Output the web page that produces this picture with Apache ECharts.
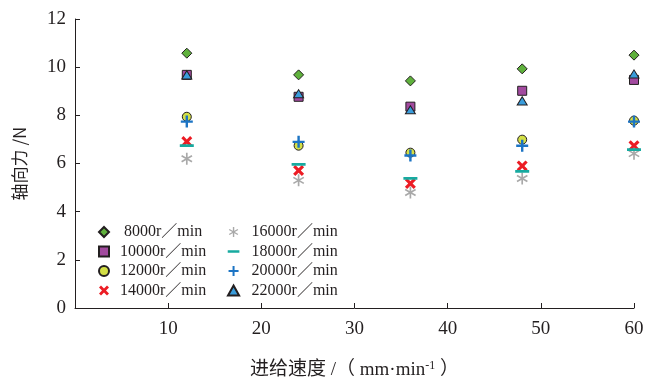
<!DOCTYPE html>
<html>
<head>
<meta charset="utf-8">
<script src="https://cdn.jsdelivr.net/npm/echarts@6/dist/echarts.min.js"></script>
<style>html,body{margin:0;padding:0;background:#fff}#c{width:645px;height:382px}</style>
</head>
<body>
<div id="c"></div>
<script>
var feed = [12, 24, 36, 48, 60];
var names = ['8000r／min','10000r／min','12000r／min','14000r／min','16000r／min','18000r／min','20000r／min','22000r／min'];
var s8000  = [10.58, 9.68, 9.43, 9.93, 10.50];
var s10000 = [9.68, 8.77, 8.36, 9.02, 9.47];
var s12000 = [7.94, 6.74, 6.45, 6.99, 7.78];
var s14000 = [6.91, 5.71, 5.17, 5.90, 6.74];
var s16000 = [6.20, 5.30, 4.80, 5.38, 6.41];
var s18000 = [6.74, 5.96, 5.38, 5.67, 6.58];
var s20000 = [7.74, 6.90, 6.33, 6.74, 7.74];
var s22000 = [9.68, 8.90, 8.23, 8.60, 9.72];
var xTicks = [0, 10, 20, 30, 40, 50, 60];
var yTicks = [0, 2, 4, 6, 8, 10, 12];

var allVals = [s8000, s10000, s12000, s14000, s16000, s18000, s20000, s22000];
function pts(v){ return feed.map(function(x,i){ return [x, v[i]]; }); }

var diaPath = 'path://M5,0 L10,5 L5,10 L0,5 Z';
var rectPath = 'path://M0,0 L10,0 L10,10 L0,10 Z';
var triPath = 'path://M5,0 L10,9 L0,9 Z';
var xPath = 'path://M0,2 L2,0 L5,3 L8,0 L10,2 L7,5 L10,8 L8,10 L5,7 L2,10 L0,8 L3,5 Z';
var astPath = 'path://M4.3,0 L5.7,0 L5.7,10 L4.3,10 Z M0.32,3.11 L1.02,1.89 L9.68,6.89 L8.98,8.11 Z M1.02,8.11 L0.32,6.89 L8.98,1.89 L9.68,3.11 Z';
var dashPath = 'path://M0,4.4 L14,4.4 L14,7.6 L0,7.6 Z M7,0 L7,0 Z M7,12 L7,12 Z';
var plusPath = 'path://M4,0 L6,0 L6,4 L10,4 L10,6 L6,6 L6,10 L4,10 L4,6 L0,6 L0,4 L4,4 Z';

var styles = [
  {symbol:diaPath, size:10, color:'#5fb13c', border:'#231f20'},
  {symbol:rectPath, size:9, color:'#a24a9f', border:'#231f20'},
  {symbol:'circle', size:9, color:'#d3df45', border:'#231f20'},
  {symbol:xPath, size:11, color:'#ec1c24', border:null},
  {symbol:astPath, size:12, color:'#a9a9a9', border:null},
  {symbol:dashPath, size:[14,12], color:'#17aaa0', border:null},
  {symbol:plusPath, size:12, color:'#1c74c4', border:null},
  {symbol:triPath, size:[10,9], color:'#3a9ddc', border:'#231f20'}
];

var series = allVals.map(function(v, k){
  var st = styles[k];
  return {
    name: names[k],
    type: 'scatter',
    data: pts(v),
    symbol: st.symbol,
    symbolSize: st.size,
    symbolKeepAspect: true,
    itemStyle: st.border ? {color: st.color, borderColor: st.border, borderWidth: 1, opacity: 1} : {color: st.color, borderWidth: 0, opacity: 1},
    emphasis: {disabled: true}
  };
});

var serif = '"Liberation Serif", "Times New Roman", serif';
var cjk = '"Liberation Serif", "Noto Sans CJK SC", serif';

function legend(data, left, pad){
  return {
    data: data,
    orient: 'vertical',
    left: left,
    top: 219,
    itemWidth: 14,
    itemHeight: 10,
    itemGap: 3.5,
    symbolKeepAspect: true,
    selectedMode: false,
    formatter: function(n){ return n.indexOf('8000')===0 ? '\u2005' + n : n; },
    textStyle: {fontFamily: cjk, fontSize: 16, color: '#231f20', padding: [0,0,0,pad]}
  };
}

var chart = echarts.init(document.getElementById('c'), null, {renderer: 'canvas'});
chart.setOption({
  animation: false,
  backgroundColor: '#fff',
  grid: {left: 75, right: 11, top: 19, bottom: 74, containLabel: false, outerBoundsMode: 'none'},
  legend: [legend(names.slice(0,4), 93, 4), legend(names.slice(4), 222, 6)],
  xAxis: {
    type: 'value', min: xTicks[0], max: xTicks[xTicks.length-1], interval: 10,
    axisLine: {show: true, lineStyle: {color: '#231f20', width: 1}},
    axisTick: {show: true, inside: true, length: 5, lineStyle: {color: '#231f20'}},
    axisLabel: {color: '#231f20', fontFamily: serif, fontSize: 19, margin: 12,
      formatter: function(v){ return v === 0 ? '' : String(v); }},
    splitLine: {show: false},
    name: '进给速度 /（ mm·min{sup|-1} ）',
    nameLocation: 'middle', nameGap: 52,
    nameTextStyle: {color: '#231f20', fontFamily: cjk, fontSize: 19,
      rich: {sup: {fontSize: 12, verticalAlign: 'top', padding: [0,0,9,0], fontFamily: serif, color: '#231f20'}}}
  },
  yAxis: {
    type: 'value', min: yTicks[0], max: yTicks[yTicks.length-1], interval: 2,
    axisLine: {show: true, lineStyle: {color: '#231f20', width: 1}},
    axisTick: {show: true, inside: true, length: 5, lineStyle: {color: '#231f20'}},
    axisLabel: {color: '#231f20', fontFamily: serif, fontSize: 19, margin: 9},
    splitLine: {show: false},
    name: '轴向力 /N',
    nameLocation: 'middle', nameGap: 47, nameRotate: 90,
    nameTextStyle: {color: '#231f20', fontFamily: '"Noto Sans CJK SC", sans-serif', fontSize: 17}
  },
  series: series
});
</script>
</body>
</html>
